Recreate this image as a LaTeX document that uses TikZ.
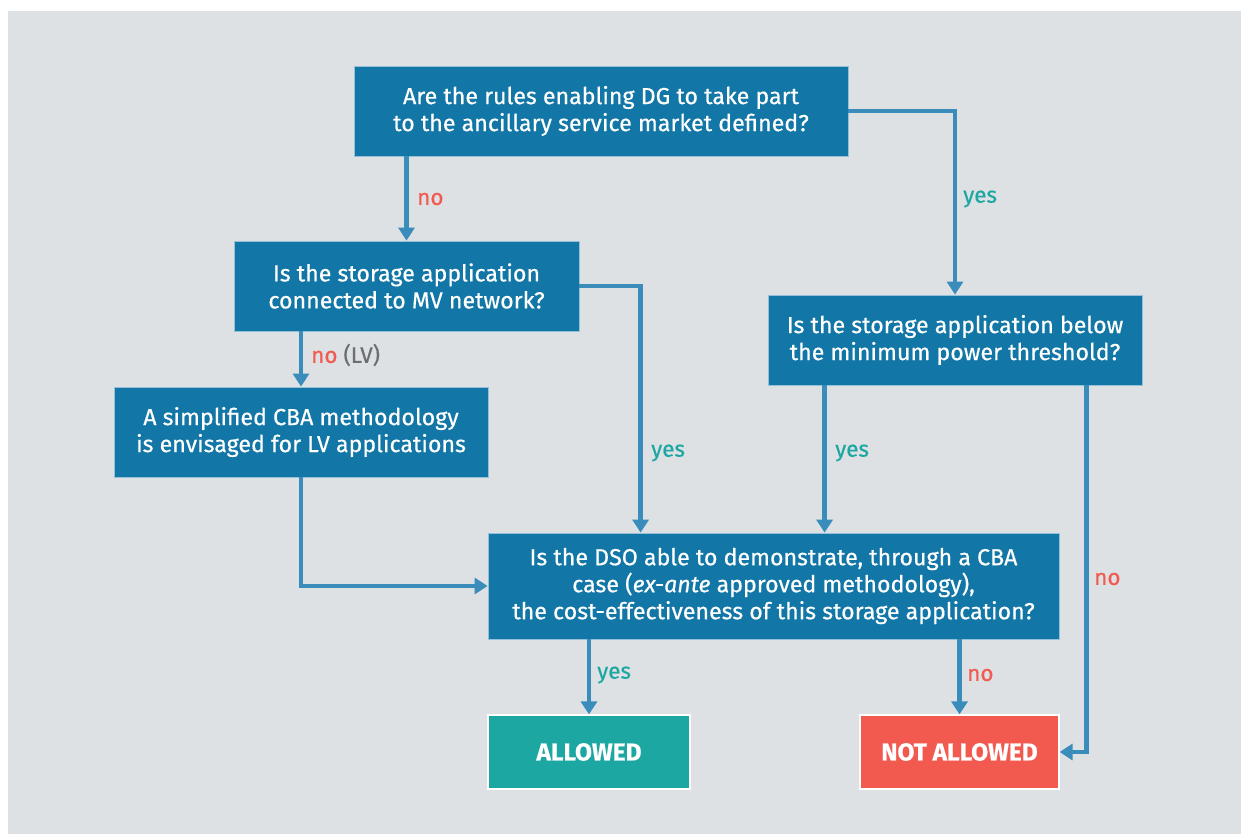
\documentclass[tikz,border=0pt]{standalone}
\usepackage{fontspec}
\setmainfont{Fira Sans}[FakeBold=0.5]
\newfontfamily\labelfont{Fira Sans}[UprightFeatures={FakeBold=0.5}]
\usetikzlibrary{arrows.meta,calc}
\definecolor{panel}{HTML}{DDE1E4}
\definecolor{boxblue}{HTML}{1276A6}
\definecolor{arrowblue}{HTML}{3A8DBB}
\definecolor{okteal}{HTML}{1CA7A2}
\definecolor{nored}{HTML}{F25A50}
\definecolor{lvgray}{HTML}{6D6E71}
\begin{document}
\begin{tikzpicture}[x=1pt,y=-1pt,
  question/.style={rectangle, fill=boxblue, draw=white!55!boxblue, line width=0.8pt,
    inner sep=0pt, text=white, align=center,
    font=\fontsize{23.2}{27}\selectfont},
  verdict/.style={rectangle, draw=white, line width=1.2pt, inner sep=0pt,
    text=white, font=\fontsize{24.5}{27}\selectfont\bfseries},
  flow/.style={draw=arrowblue, line width=4.6pt, -{Triangle[width=16pt,length=13pt]}},
  yeslbl/.style={text=okteal, font=\fontsize{22.5}{24}\selectfont, inner sep=0pt},
  nolbl/.style={text=nored, font=\fontsize{22.5}{24}\selectfont, inner sep=0pt}
]
% page and panel
\useasboundingbox (0,0) rectangle (1241,834);
\fill[white] (0,0) rectangle (1241,834);
\fill[panel] (8,11) rectangle (1241,834);

% decision boxes
\node[question, minimum width=494pt, minimum height=90pt] (b1) at (601,111)
  {Are the rules enabling DG to take part\\to the ancillary service market defined?};
\node[question, minimum width=345pt, minimum height=90pt] (b2) at (406.5,286)
  {Is the storage application\\connected to MV network?};
\node[question, minimum width=374pt, minimum height=90pt] (b3) at (301,432)
  {A simplified CBA methodology\\is envisaged for LV applications};
\node[question, minimum width=374pt, minimum height=90pt] (b4) at (955,340)
  {Is the storage application below\\the minimum power threshold?};
\node[question, minimum width=571pt, minimum height=106pt] (b5) at (773.5,586)
  {Is the DSO able to demonstrate, through a CBA\\case (\textit{ex-ante} approved methodology),\\the cost-effectiveness of this storage application?};

% outcomes
\node[verdict, fill=okteal, minimum width=202pt, minimum height=74pt] (al) at (589,752) {ALLOWED};
\node[verdict, fill=nored, minimum width=199pt, minimum height=74pt] (na) at (959.5,752) {NOT ALLOWED};

% connector anchors
\coordinate (t2) at ([xshift=153pt]b5.north west);
\coordinate (t4) at ([xshift=57pt]b4.south west);
\coordinate (t4n) at ([xshift=-56pt]b4.south east);

% connectors
\draw[flow] (b2.north |- b1.south) -- (b2.north);
\draw[flow] (b1.east) -| (b4.north);
\draw[flow] (b3.north |- b2.south) -- (b3.north);
\draw[flow] (b2.east) -| (t2);
\draw[flow] (b3.south) |- (b5.west);
\draw[flow] (t4) -- (t4 |- b5.north);
\draw[flow] (t4n) |- (na.east);
\draw[flow] (al.north |- b5.south) -- (al.north);
\draw[flow] (na.north |- b5.south) -- (na.north);

% branch labels
\node[nolbl, anchor=west] (l1) at (417,199) {no};
\node[yeslbl, anchor=west] (l2) at (963,199) {yes};
\node[nolbl, anchor=west] (l3) at (311,355) {no \textcolor{lvgray}{(LV)}};
\node[yeslbl, anchor=west] (l4) at (651,453) {yes};
\node[yeslbl, anchor=west] (l5) at (835,453) {yes};
\node[nolbl, anchor=west] (l6) at (1094,579) {no};
\node[yeslbl, anchor=west] (l7) at (597,675) {yes};
\node[nolbl, anchor=west] (l8) at (967,675) {no};
\end{tikzpicture}
\end{document}
